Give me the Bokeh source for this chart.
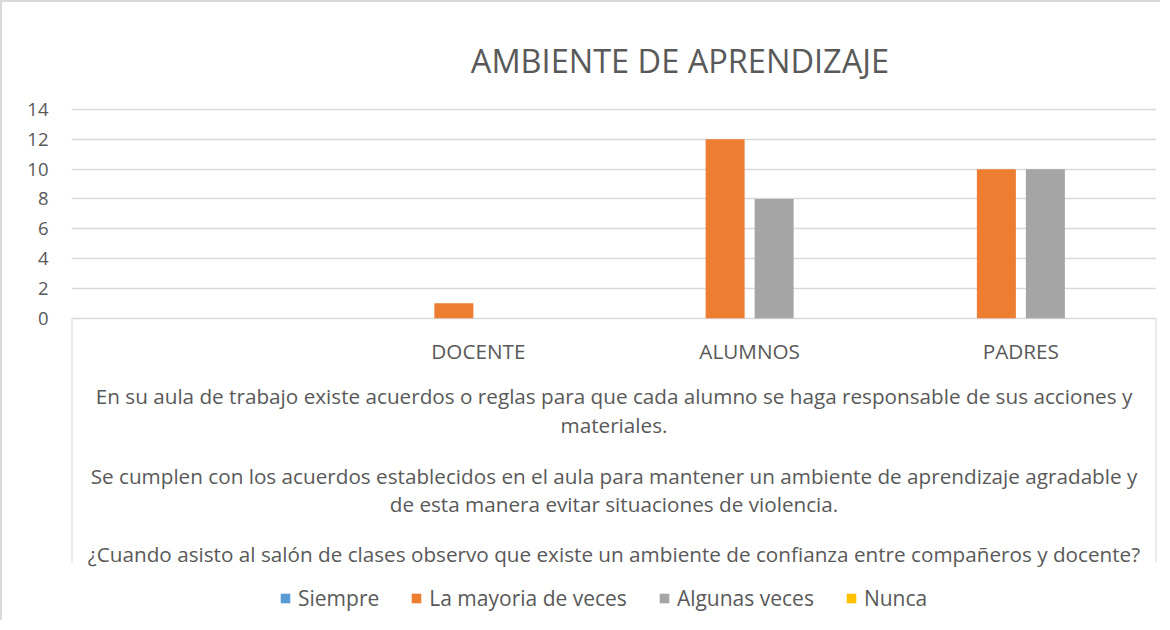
from bokeh.plotting import figure
from bokeh.models import ColumnDataSource, FactorRange, Range1d, FixedTicker, Legend, LegendItem
from bokeh.transform import dodge
from bokeh.core.properties import value
from bokeh.embed import file_html
from bokeh.resources import INLINE

# ---------------- data ----------------
title_text = "AMBIENTE DE APRENDIZAJE"
categories = [" ", "DOCENTE", "ALUMNOS", "PADRES"]
series_names = ["Siempre", "La mayoria de veces", "Algunas veces", "Nunca"]
siempre = [0, 0, 0, 0]
la_mayoria = [0, 1, 12, 10]
algunas = [0, 0, 8, 10]
nunca = [0, 0, 0, 0]
y_ticks = [0, 2, 4, 6, 8, 10, 12, 14]
questions = [
    "En su aula de trabajo existe acuerdos o reglas para que cada alumno se haga responsable de sus acciones y",
    "materiales.",
    "Se cumplen con los acuerdos establecidos en el aula para mantener un ambiente de aprendizaje agradable y",
    "de esta manera evitar situaciones de violencia.",
    "¿Cuando asisto al salón de clases observo que existe un ambiente de confianza entre compañeros y docente?",
]
colors = ["#5B9BD5", "#ED7D31", "#A5A5A5", "#FFC000"]

# ---------------- layout ----------------
FONT = "Open Sans"
TXT = "#595959"
FS = "20.7px"
W, H = 1160, 620
OFF = 2                       # border offset
Y0_PX = 317.7 - OFF           # pixel row of value 0
PX_PER_UNIT = (317.7 - 109.0) / 14.0
LEFT = 70.7 - OFF
RIGHT = 1155.5 - OFF


def ydata(screen_y):
    return (Y0_PX - (screen_y - OFF)) / PX_PER_UNIT


cat_px = (RIGHT - LEFT) / len(categories)
bar_w = 39 / cat_px
pitch = 49 / cat_px

source = ColumnDataSource(dict(cat=categories, s0=siempre, s1=la_mayoria, s2=algunas, s3=nunca))

p = figure(
    width=W, height=H,
    x_range=FactorRange(factors=categories),
    y_range=Range1d(ydata(H + OFF), ydata(OFF)),
    output_backend="svg", toolbar_location=None,
    min_border_left=int(round(LEFT)), min_border_right=int(round(W - RIGHT)),
    min_border_top=0, min_border_bottom=0,
)
p.styles = {"border-left": "2px solid #d9d9d9", "border-top": "2px solid #d9d9d9"}
p.outline_line_color = None
p.background_fill_color = "white"
p.border_fill_color = "white"

# axes & grid
p.xaxis.visible = False
p.xgrid.grid_line_color = None
p.yaxis.ticker = FixedTicker(ticks=y_ticks)
p.ygrid.ticker = FixedTicker(ticks=y_ticks)
p.ygrid.grid_line_color = "#d9d9d9"
p.ygrid.grid_line_width = 1.3
p.yaxis.axis_line_color = None
p.yaxis.major_tick_line_color = None
p.yaxis.minor_tick_line_color = None
p.yaxis.major_label_standoff = 17
p.yaxis.major_label_text_font = FONT
p.yaxis.major_label_text_font_size = "18.5px"
p.yaxis.major_label_text_color = TXT

# bars
renderers = []
keys = ["s0", "s1", "s2", "s3"]
for i, (k, c) in enumerate(zip(keys, colors)):
    r = p.vbar(x=dodge("cat", (i - 1.5) * pitch, range=p.x_range), top=k, width=bar_w,
               source=source, fill_color=c, line_color=None)
    renderers.append(r)

# category-axis box lines
p.segment(x0=[0, len(categories)], x1=[0, len(categories)], y0=[0, 0], y1=[ydata(562)] * 2,
          line_color="#d9d9d9", line_width=2)

# category labels
p.text(x=categories[1:], y=[ydata(350)] * 3, text=categories[1:], text_font=value(FONT),
       text_font_size=FS, text_color=TXT, text_align="center", text_baseline="middle")

# question labels
q_y = [395, 424, 475, 503, 553]
p.text(x=[len(categories) / 2] * len(questions), y=[ydata(v) for v in q_y], text=questions,
       text_font=value(FONT), text_font_size=FS, text_color=TXT,
       text_align="center", text_baseline="middle")

# title
p.text(x=[(679 - 70.7) / cat_px], y=[ydata(60)], text=[title_text], text_font=value(FONT),
       text_font_size="32.5px", text_color=TXT, text_align="center", text_baseline="middle")

legend = Legend(
    items=[LegendItem(label=n, renderers=[r]) for n, r in zip(series_names, renderers)],
    orientation="horizontal", location=(208, 10),
    border_line_color=None, background_fill_alpha=0, padding=0, margin=0,
    spacing=31, label_standoff=7, glyph_width=12, glyph_height=12,
    label_text_font=FONT, label_text_font_size="21px", label_text_color=TXT,
)
p.add_layout(legend)

open("out.html", "w").write(file_html(p, INLINE))
